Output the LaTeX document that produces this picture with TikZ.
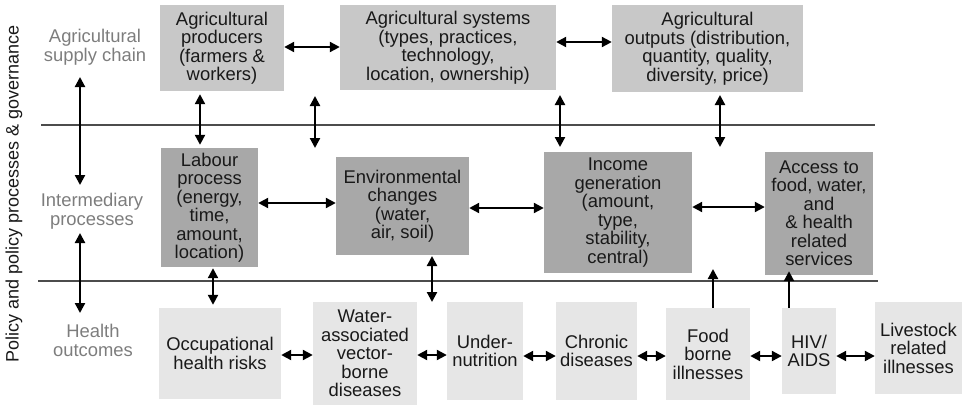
\documentclass[tikz,border=0pt]{standalone}
\usepackage{fontspec}
\setmainfont{Liberation Sans}
\usetikzlibrary{arrows.meta}
\definecolor{topgray}{RGB}{200,200,200}
\definecolor{midgray}{RGB}{168,168,168}
\definecolor{lowgray}{RGB}{230,230,230}
\definecolor{labgray}{RGB}{125,125,125}
\definecolor{txt}{RGB}{25,25,25}
\begin{document}
\begin{tikzpicture}[x=1pt,y=-1pt,
  box/.style={inner sep=0pt, align=center, text=txt,
    font=\fontsize{18.4}{18.5}\selectfont},
  topbox/.style={box, fill=topgray},
  midbox/.style={box, fill=midgray},
  lowbox/.style={box, fill=lowgray},
  side/.style={align=center, text=labgray, font=\fontsize{18.4}{19}\selectfont},
  dbl/.style={line width=2.2pt, {Triangle[length=10pt,width=10pt]}-{Triangle[length=10pt,width=10pt]}},
  sgl/.style={line width=2.2pt, -{Triangle[length=10pt,width=10pt]}},
  sep/.style={line width=1.2pt, draw=black!70}]
\useasboundingbox (0,0) rectangle (965,410);
% top row
\node[topbox, minimum width=124pt, minimum height=86pt] (prod) at (222,48) {Agricultural\\producers\\(farmers \&\\workers)};
\node[topbox, minimum width=216pt, minimum height=85pt] (sys) at (448,47.5) {Agricultural systems\\(types, practices,\\technology,\\location, ownership)};
\node[topbox, minimum width=191pt, minimum height=87pt] (out) at (707.5,48.5) {Agricultural\\outputs (distribution,\\quantity, quality,\\diversity, price)};
% middle row
\node[midbox, minimum width=97pt, minimum height=119pt] (lab) at (209.5,207.5) {Labour\\process\\(energy,\\time,\\amount,\\location)};
\node[midbox, minimum width=133pt, minimum height=98pt] (env) at (402.5,206) {Environmental\\changes\\(water,\\air, soil)};
\node[midbox, minimum width=148pt, minimum height=121pt] (inc) at (618,212.5) {Income\\generation\\(amount,\\type,\\stability,\\central)};
\node[midbox, minimum width=108pt, minimum height=123pt] (acc) at (819,213.5) {Access to\\food, water,\\and\\\& health\\related\\services};
% bottom row
\node[lowbox, minimum width=122pt, minimum height=91pt] (occ) at (220,353.5) {Occupational\\health risks};
\node[lowbox, minimum width=104pt, minimum height=103pt] (wat) at (365,353.5) {Water-\\associated\\vector-\\borne\\diseases};
\node[lowbox, minimum width=76pt, minimum height=98pt] (und) at (485,351) {Under-\\nutrition};
\node[lowbox, minimum width=81pt, minimum height=98pt] (chr) at (596.5,351) {Chronic\\diseases};
\node[lowbox, minimum width=84pt, minimum height=92pt] (food) at (708,354) {Food\\borne\\illnesses};
\node[lowbox, minimum width=54pt, minimum height=86pt] (hiv) at (809,351) {HIV/\\AIDS};
\node[lowbox, minimum width=87pt, minimum height=92pt] (liv) at (918.5,348) {Livestock\\related\\illnesses};
% side labels
\node[side] (lsupply) at (95,47) {Agricultural\\supply chain};
\node[side] (linter) at (92,211) {Intermediary\\processes};
\node[side] (lhealth) at (93,340) {Health\\outcomes};
\node[rotate=90, text=txt, font=\fontsize{18}{18}\selectfont, inner sep=0pt] (policy) at (14,194) {Policy and policy processes \& governance};
% separators
\coordinate (s1a) at (41,125); \coordinate (s1b) at (875,125);
\coordinate (s2a) at (38,281); \coordinate (s2b) at (878,281);
\draw[sep] (s1a) -- (s1b);
\draw[sep] (s2a) -- (s2b);
% left arrows
\coordinate (la1) at (80,77); \coordinate (la2) at (80,185);
\coordinate (la3) at (80,233); \coordinate (la4) at (80,313);
\draw[dbl] (la1) -- (la2);
\draw[dbl] (la3) -- (la4);
% top row horizontal
\draw[dbl] (prod.east |- 0,47) -- (sys.west |- 0,47);
\draw[dbl] (sys.east |- 0,42) -- (out.west |- 0,42);
% top to middle
\draw[dbl] ([yshift=-3pt]prod.south -| 200,0) -- ([yshift=3pt]lab.north -| 200,0);
\coordinate (v2a) at (315,96); \coordinate (v2b) at (315,148);
\draw[dbl] (v2a) -- (v2b);
\coordinate (v3a) at (560,95); \coordinate (v3b) at (560,147);
\draw[dbl] (v3a) -- (v3b);
\coordinate (v4a) at (720,95); \coordinate (v4b) at (720,147);
\draw[dbl] (v4a) -- (v4b);
% middle row horizontal
\draw[dbl] (lab.east |- 0,203) -- (env.west |- 0,203);
\draw[dbl] (env.east |- 0,208) -- (inc.west |- 0,208);
\draw[dbl] (inc.east |- 0,207) -- (acc.west |- 0,207);
% middle to bottom
\draw[dbl] ([yshift=-1pt]lab.south -| 213,0) -- ([yshift=3pt]occ.north -| 213,0);
\coordinate (v6a) at (432,256); \coordinate (v6b) at (432,302);
\draw[dbl] (v6a) -- (v6b);
\coordinate (v7) at (713,269);
\draw[sgl] (food.north -| v7) -- (v7);
\draw[sgl] (hiv.north -| 789,0) -- ([yshift=4pt]acc.south -| 789,0);
% bottom row horizontal
\draw[dbl] (occ.east |- 0,355) -- (wat.west |- 0,355);
\draw[dbl] (wat.east |- 0,355) -- (und.west |- 0,355);
\draw[dbl] (und.east |- 0,356) -- (chr.west |- 0,356);
\draw[dbl] (chr.east |- 0,356) -- (food.west |- 0,356);
\draw[dbl] (food.east |- 0,356) -- (hiv.west |- 0,356);
\draw[dbl] (hiv.east |- 0,356) -- (liv.west |- 0,356);
\end{tikzpicture}
\end{document}
